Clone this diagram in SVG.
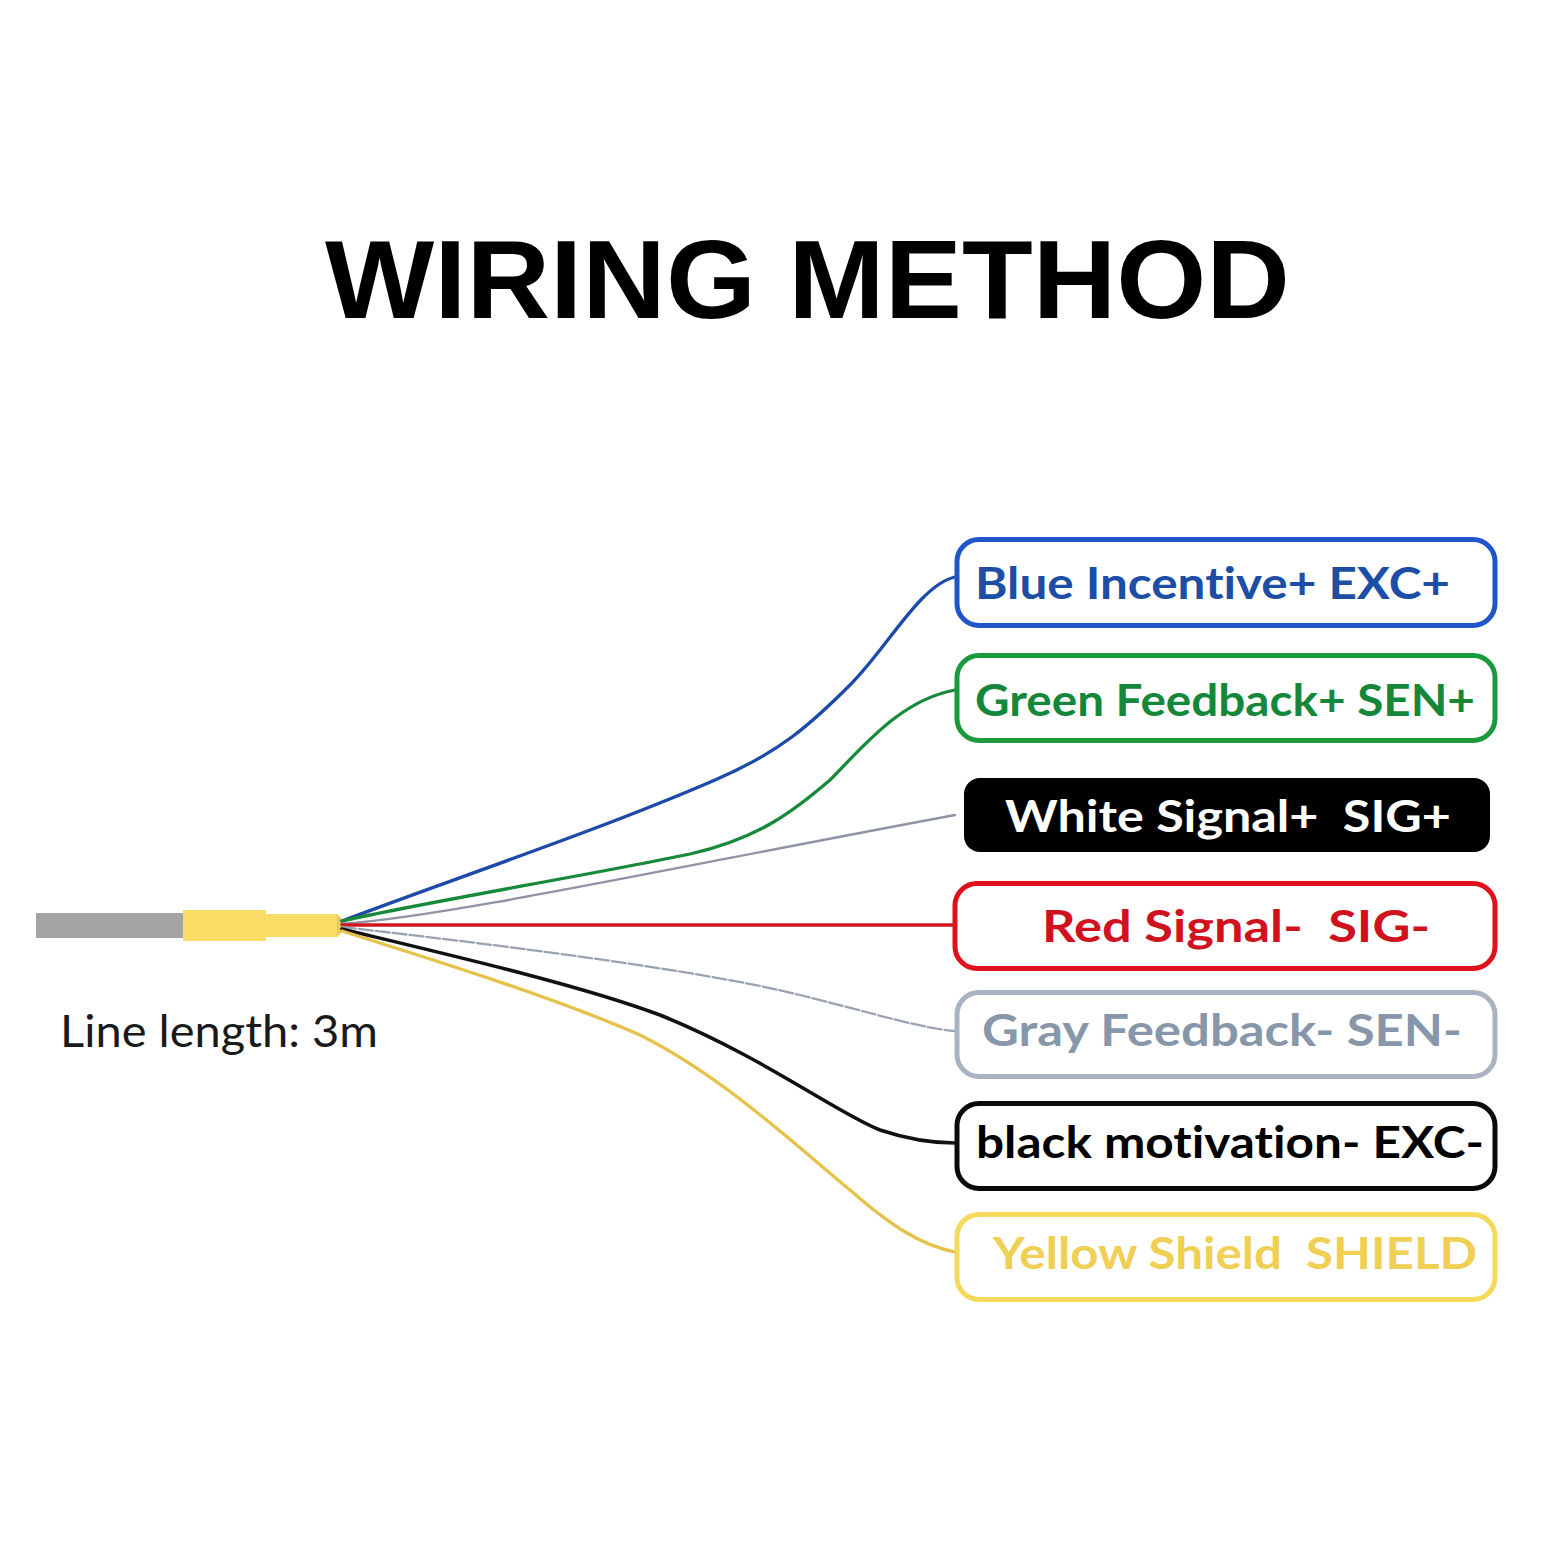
<svg xmlns="http://www.w3.org/2000/svg" width="1568" height="1568" viewBox="0 0 1568 1568">
<style>
.lbl{font-family:"Lato","Open Sans","Liberation Sans",sans-serif;font-weight:700;font-size:43px;font-variant-ligatures:none;white-space:pre}
.box{fill:#ffffff;stroke-width:5}
.wire{fill:none;stroke-linecap:round}
</style>
<rect x="0" y="0" width="1568" height="1568" fill="#ffffff"/>
<text x="325" y="318" font-family="'Liberation Sans',Arial,sans-serif" font-weight="700" font-size="111" textLength="965" lengthAdjust="spacingAndGlyphs" fill="#000">WIRING METHOD</text>
<g id="cable">
<rect x="36" y="913" width="148" height="25" fill="#a3a3a3"/>
<rect x="183" y="910" width="83" height="31" fill="#f8dc66"/>
<rect x="265" y="914" width="73" height="23" fill="#f8dc66"/>
<path d="M337,914 L345,922 L345,929 L337,937 Z" fill="#e8c95a"/>
</g>
<text x="60" y="1047" font-family="Lato,'Open Sans','Liberation Sans',sans-serif" font-size="44" textLength="318" lengthAdjust="spacingAndGlyphs" fill="#1a1a1a">Line length: 3m</text>
<g id="connectors">
<path class="wire" stroke="#1d4aa8" stroke-width="3.3" d="M342,921 C450,880 600,830 715,780 C780,752 810,725 850,685 C888,647 920,585 955,577"/>
<path class="wire" stroke="#178a3a" stroke-width="3.3" d="M342,921 C420,903 590,875 690,854 C760,838 795,810 830,780 C862,748 900,700 955,690"/>
<path class="wire" stroke="#8e94a6" stroke-width="2.3" d="M342,924 C450,916 660,870 955,815"/>
<path class="wire" stroke="#d3141f" stroke-width="3.3" d="M342,925 L955,925"/>
<path class="wire" stroke="#9aa2b2" stroke-width="2.3" stroke-dasharray="14 3" d="M342,927 C500,945 700,970 800,995 C880,1015 920,1028 955,1031"/>
<path class="wire" stroke="#111111" stroke-width="3.5" d="M342,929 C450,955 580,985 660,1015 C760,1055 840,1115 880,1130 C910,1140 935,1143 955,1143"/>
<path class="wire" stroke="#e6c24a" stroke-width="3.3" d="M342,931 C450,965 560,1000 640,1035 C720,1075 790,1140 850,1190 C890,1225 920,1245 955,1252"/>
</g>
<g id="node-blue">
<rect class="box" x="957" y="539.5" width="538" height="86" rx="22" stroke="#1f55c8"/>
<text class="lbl" x="975" y="599" textLength="475" lengthAdjust="spacingAndGlyphs" fill="#1c4ea6" xml:space="preserve">Blue Incentive+ EXC+</text>
</g>
<g id="node-green">
<rect class="box" x="957" y="655.5" width="538" height="85" rx="22" stroke="#1a9a3c"/>
<text class="lbl" x="975" y="716" textLength="500" lengthAdjust="spacingAndGlyphs" fill="#15873a" xml:space="preserve">Green Feedback+ SEN+</text>
</g>
<g id="node-white">
<rect x="964" y="778" width="526" height="74" rx="16" fill="#000000"/>
<text class="lbl" x="1005" y="832" textLength="446" lengthAdjust="spacingAndGlyphs" fill="#ffffff" xml:space="preserve">White Signal+  SIG+</text>
</g>
<g id="node-red">
<rect class="box" x="955" y="883.5" width="540" height="85" rx="22" stroke="#e0101c"/>
<text class="lbl" x="1042" y="942" textLength="388" lengthAdjust="spacingAndGlyphs" fill="#d0121f" xml:space="preserve">Red Signal-  SIG-</text>
</g>
<g id="node-gray">
<rect class="box" x="957" y="992.5" width="538" height="84" rx="22" stroke="#a9b3c3"/>
<text class="lbl" x="982" y="1046" textLength="480" lengthAdjust="spacingAndGlyphs" fill="#8896aa" xml:space="preserve">Gray Feedback- SEN-</text>
</g>
<g id="node-black">
<rect class="box" x="957" y="1103.5" width="538" height="85" rx="22" stroke="#0a0a0a"/>
<text class="lbl" x="976" y="1158" textLength="508" lengthAdjust="spacingAndGlyphs" fill="#000000" xml:space="preserve">black motivation- EXC-</text>
</g>
<g id="node-yellow">
<rect class="box" x="957" y="1214.5" width="538" height="85" rx="22" stroke="#f5d95a"/>
<text class="lbl" x="993" y="1269" textLength="484" lengthAdjust="spacingAndGlyphs" fill="#f0cf55" xml:space="preserve">Yellow Shield  SHIELD</text>
</g>
</svg>
